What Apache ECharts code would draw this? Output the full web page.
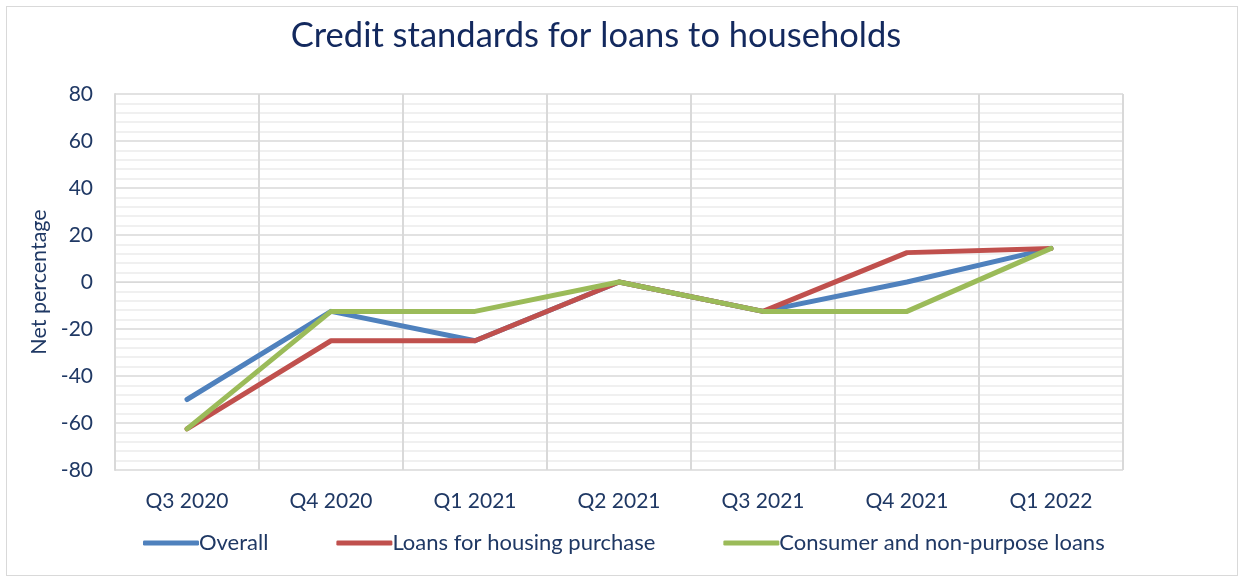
<!DOCTYPE html>
<html><head><meta charset="utf-8">
<script src="https://cdn.jsdelivr.net/npm/echarts@6/dist/echarts.min.js"></script>
<style>html,body{margin:0;padding:0;background:#fff}#c{width:1244px;height:577px}
#frame{position:absolute;left:6px;top:6px;width:1230px;height:568px;border:1px solid #d9d9d9;pointer-events:none}</style>
</head><body><div id="c"></div><div id="frame"></div>
<script>
const categories = ['Q3 2020','Q4 2020','Q1 2021','Q2 2021','Q3 2021','Q4 2021','Q1 2022'];
const overall = [-50, -12.5, -25, 0, -12.5, 0, 14.3];
const housing = [-62.5, -25, -25, 0, -12.5, 12.5, 14.3];
const consumer = [-62.5, -12.5, -12.5, 0, -12.5, -12.5, 14.3];
const seriesNames = ['Overall','Loans for housing purchase','Consumer and non-purpose loans'];
const colors = ['#4F81BD','#C0504D','#9BBB59'];
const txt = '#1F3864';
const font = 'Lato, "Open Sans", sans-serif';
const chart = echarts.init(document.getElementById('c'));
const mk = (name, data, color) => ({
  name, type:'line', data, symbol:'none', smooth:false,
  lineStyle:{width:5, color, cap:'round', join:'round'}, itemStyle:{color}
});
chart.setOption({
  animation:false,
  textStyle:{fontFamily:font},
  title:{text:'Credit standards for loans to households', left:591, textAlign:'center', top:13,
    textStyle:{fontSize:34.5, fontWeight:'normal', color:'#13295E', fontFamily:font}},
  legend:{bottom:18, left:138, itemWidth:56, itemHeight:5, itemGap:68,
    icon:'roundRect',
    textStyle:{fontSize:22, color:txt, fontFamily:font, padding:[0,0,0,-5]},
    data:seriesNames},
  grid:{left:115, right:121, top:94, bottom:107, containLabel:false},
  xAxis:{type:'category', data:categories, boundaryGap:true,
    axisLine:{show:true, lineStyle:{color:'#d9d9d9', width:1}},
    axisTick:{show:false},
    axisLabel:{fontSize:21, color:txt, margin:21, fontFamily:font},
    splitLine:{show:true, lineStyle:{color:'#d9d9d9', width:2}}},
  yAxis:{type:'value', min:-80, max:80, interval:20,
    name:'Net percentage', nameLocation:'middle', nameGap:62, nameRotate:90,
    nameTextStyle:{fontSize:21.5, color:txt, fontFamily:font},
    axisLine:{show:true, lineStyle:{color:'#d9d9d9', width:2}},
    axisTick:{show:false},
    axisLabel:{fontSize:21, color:txt, margin:22, fontFamily:font},
    splitLine:{show:true, lineStyle:{color:'#d9d9d9', width:1.5}},
    minorTick:{show:false, splitNumber:5},
    minorSplitLine:{show:true, lineStyle:{color:'#ebebeb', width:1.5}}},
  series:[mk(seriesNames[0], overall, colors[0]), mk(seriesNames[1], housing, colors[1]), mk(seriesNames[2], consumer, colors[2])]
});
</script></body></html>
